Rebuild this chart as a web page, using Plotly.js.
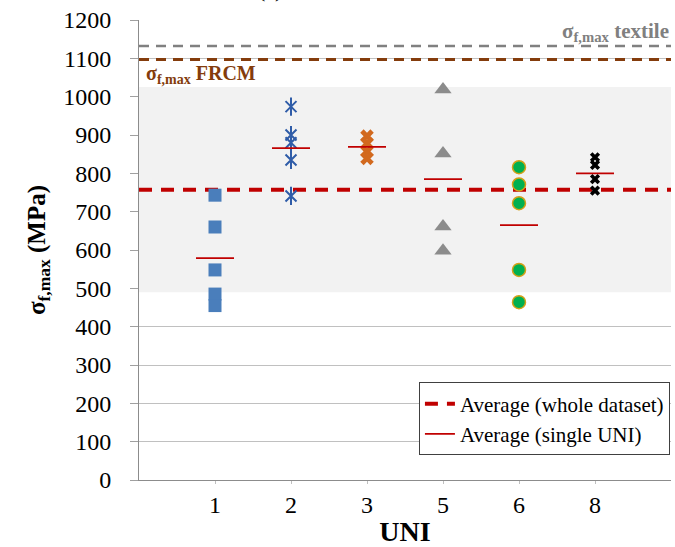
<!DOCTYPE html>
<html>
<head>
<meta charset="utf-8">
<script src="https://cdn.plot.ly/plotly-3.0.1.min.js"></script>
<style>html,body{margin:0;padding:0;background:#fff;}#chart{width:675px;height:547px;}</style>
</head>
<body>
<div id="chart"></div>
<script>
// Categories (UNI labs) and their slot positions on the x axis
const categories = ['1', '2', '3', '5', '6', '8'];
const slots = [1, 2, 3, 4, 5, 6];

// sigma_f,max values per UNI (MPa)
const uni1 = [743, 660, 548, 485, 455];
const uni2 = [974, 900, 880, 835, 741];
const uni3 = [897, 878, 857, 839];
const uni5 = [1019, 852, 661, 598];
const uni6 = [816, 771, 722, 548, 464];
const uni8 = [842, 822, 785, 755];

// Single-UNI averages
const uniAverages = [579, 866, 869, 785, 665, 800];

// Reference values
const avgWhole = 757;
const textileMax = 1132;
const frcmMax = 1097;
const bandLow = 490;
const bandHigh = 1025;

const xMin = 0, xMax = 7;
const halfWidth = 0.25;
const serif = "'Liberation Serif', 'Times New Roman', serif";

function pts(slot, vals) { return vals.map(() => slot); }

const traces = [];

// grey band
traces.push({
  x: [xMin, xMax, xMax, xMin], y: [bandLow, bandLow, bandHigh, bandHigh],
  type: 'scatter', mode: 'none', fill: 'toself', fillcolor: '#f2f2f2',
  hoverinfo: 'skip', showlegend: false
});
// textile & FRCM reference lines
traces.push({x: [xMin, xMax], y: [textileMax, textileMax], type: 'scatter', mode: 'lines',
  line: {color: '#808080', width: 2.5, dash: '10px,7px'}, showlegend: false});
traces.push({x: [xMin, xMax], y: [frcmMax, frcmMax], type: 'scatter', mode: 'lines',
  line: {color: '#843c0c', width: 3, dash: '10px,7px'}, showlegend: false});
// whole-dataset average
traces.push({x: [xMin, xMax], y: [avgWhole, avgWhole], type: 'scatter', mode: 'lines',
  name: 'Average (whole dataset)', line: {color: '#c00000', width: 4, dash: '13px,9px'}, showlegend: true});

// markers
traces.push({x: pts(slots[0], uni1), y: uni1, type: 'scatter', mode: 'markers', showlegend: false,
  marker: {symbol: 'square', size: 13, color: '#4a7ebb'}});
traces.push({x: pts(slots[1], uni2), y: uni2, type: 'scatter', mode: 'markers', showlegend: false,
  marker: {symbol: 'x-thin-open', size: 11, color: '#2f5ca8', line: {color: '#2f5ca8', width: 2}}});
traces.push({x: pts(slots[1], uni2), y: uni2, type: 'scatter', mode: 'markers', showlegend: false,
  marker: {symbol: 'line-ns-open', size: 13, color: '#2f5ca8', line: {color: '#2f5ca8', width: 2}}});
traces.push({x: pts(slots[2], uni3), y: uni3, type: 'scatter', mode: 'markers', showlegend: false,
  marker: {symbol: 'x', size: 12, color: '#d2691e'}});
traces.push({x: pts(slots[3], uni5), y: uni5, type: 'scatter', mode: 'markers', showlegend: false,
  marker: {symbol: 'triangle-up', size: 15, color: '#8c8c8c'}});
traces.push({x: pts(slots[4], uni6), y: uni6, type: 'scatter', mode: 'markers', showlegend: false,
  marker: {symbol: 'circle', size: 13, color: '#00b050', line: {color: '#d4a017', width: 1.5}}});
traces.push({x: pts(slots[5], uni8), y: uni8, type: 'scatter', mode: 'markers', showlegend: false,
  marker: {symbol: 'x', size: 9, color: '#000000'}});

// single-UNI averages
slots.forEach((s, i) => {
  traces.push({x: [s - halfWidth, s + halfWidth], y: [uniAverages[i], uniAverages[i]],
    type: 'scatter', mode: 'lines', name: 'Average (single UNI)',
    line: {color: '#c00000', width: 1.8}, showlegend: i === 0});
});

const layout = {
  width: 675, height: 547,
  margin: {l: 139, r: 4, t: 20, b: 67},
  paper_bgcolor: '#ffffff', plot_bgcolor: '#ffffff',
  font: {family: serif, color: '#000'},
  xaxis: {
    range: [xMin, xMax], tickvals: slots, ticktext: categories,
    showgrid: false, zeroline: false, showline: true, linecolor: '#8c8c8c', linewidth: 1,
    ticks: 'outside', ticklen: 3, tickcolor: '#bfbfbf',
    tickfont: {family: serif, size: 24, color: '#000'},
    title: {text: '<b>UNI</b>', font: {family: serif, size: 28, color: '#000'}, standoff: 4}
  },
  yaxis: {
    range: [0, 1200], dtick: 100, showgrid: true, gridcolor: '#c0c0c0', gridwidth: 1,
    zeroline: false, showline: true, linecolor: '#8c8c8c', linewidth: 1,
    ticks: 'outside', ticklen: 8, tickcolor: '#a0a0a0', ticklabelstandoff: 14,
    tickfont: {family: serif, size: 24, color: '#000'},
    title: {text: '<b>σ<sub>f,max</sub> (MPa)</b>', font: {family: serif, size: 25, color: '#000'}, standoff: 10}
  },
  showlegend: true,
  legend: {
    x: 0.998, xanchor: 'right', y: 0.212, yanchor: 'top',
    bgcolor: '#ffffff', bordercolor: '#404040', borderwidth: 1,
    font: {family: serif, size: 21, color: '#000'},
    tracegroupgap: 0, itemwidth: 30
  },
  annotations: [
    {xref: 'paper', yref: 'y', x: 1, y: 1170, xanchor: 'right', yanchor: 'middle', showarrow: false,
     text: '<b>σ<sub>f,max</sub> textile</b>', font: {family: serif, size: 21, color: '#808080'}},
    {xref: 'paper', yref: 'y', x: 0.01, y: 1057, xanchor: 'left', yanchor: 'middle', showarrow: false,
     text: '<b>σ<sub>f,max</sub> FRCM</b>', font: {family: serif, size: 20, color: '#843c0c'}},
    {xref: 'paper', yref: 'paper', x: 0.247, y: 1.066, xanchor: 'center', yanchor: 'middle', showarrow: false,
     text: '(a)', font: {family: serif, size: 22, color: '#000'}}
  ]
};

Plotly.newPlot('chart', traces, layout, {staticPlot: true, displayModeBar: false});
</script>
</body>
</html>
